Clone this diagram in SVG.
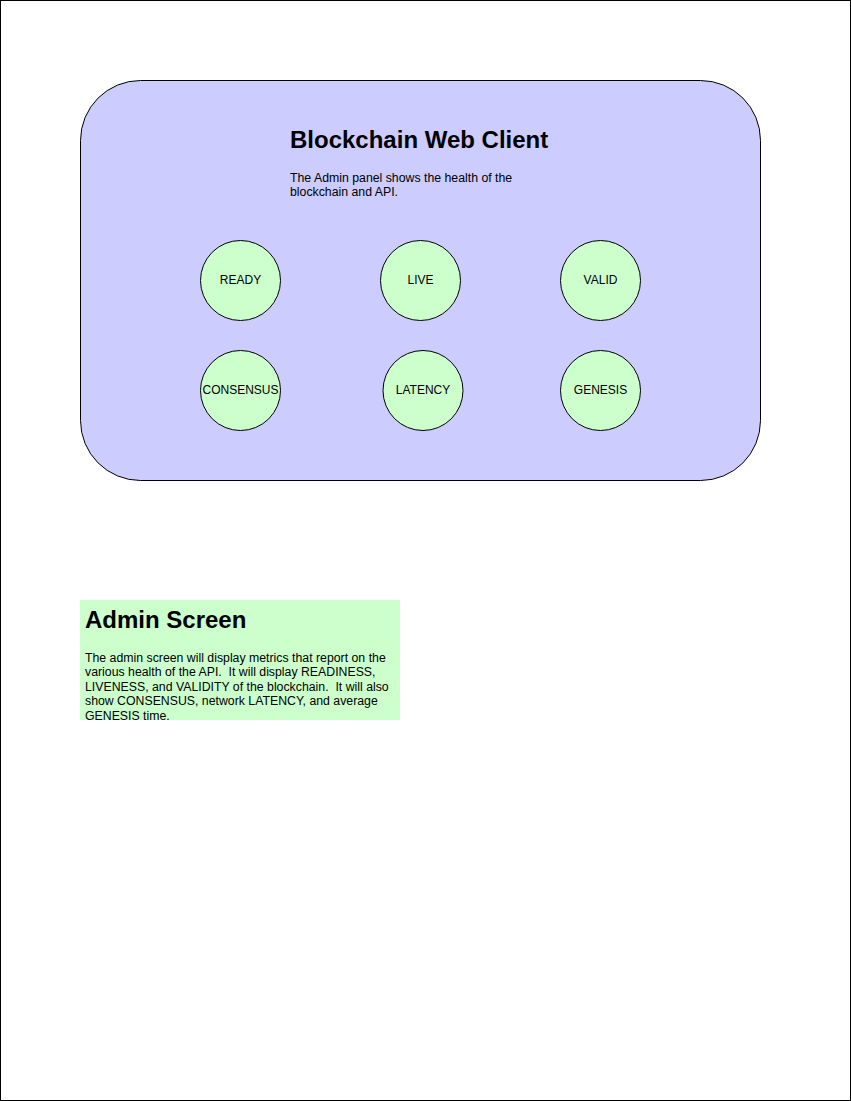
<svg xmlns="http://www.w3.org/2000/svg" width="851" height="1101" viewBox="0 0 851 1101">
<style>
.t{font-family:"Liberation Sans",Arial,sans-serif;fill:#000;white-space:pre}
.h{font-size:24px;font-weight:bold}
.s{font-size:12.3px}
.n circle{fill:#ccffcc;stroke:#000;stroke-width:1}
.n text{font-family:"Liberation Sans",Arial,sans-serif;font-size:12px;text-anchor:middle;fill:#000}
</style>
<rect x="0.5" y="0.5" width="850" height="1100" fill="#fff" stroke="#000"/>
<g id="web-client">
<rect x="80.5" y="80.5" width="680" height="400" rx="60" ry="60" fill="#ccccff" stroke="#000"/>
<text class="t h" x="290" y="148">Blockchain Web Client</text>
<text class="t s" x="290" y="182">The Admin panel shows the health of the</text>
<text class="t s" x="290" y="196">blockchain and API.</text>
</g>
<g id="ready" class="n"><circle cx="240.5" cy="280.5" r="40"/><text x="240.5" y="283.5">READY</text></g>
<g id="live" class="n"><circle cx="420.5" cy="280.5" r="40"/><text x="420.5" y="283.5">LIVE</text></g>
<g id="valid" class="n"><circle cx="600.5" cy="280.5" r="40"/><text x="600.5" y="283.5">VALID</text></g>
<g id="consensus" class="n"><circle cx="240.5" cy="390.5" r="40"/><text x="240.5" y="393.5">CONSENSUS</text></g>
<g id="latency" class="n"><circle cx="423" cy="390.5" r="40"/><text x="423" y="393.5">LATENCY</text></g>
<g id="genesis" class="n"><circle cx="600.5" cy="390.5" r="40"/><text x="600.5" y="393.5">GENESIS</text></g>
<g id="connectors"></g>
<g id="admin-screen">
<rect x="80" y="600" width="320" height="120" fill="#ccffcc"/>
<text class="t h" x="85" y="628">Admin Screen</text>
<text class="t s" x="85" y="662">The admin screen will display metrics that report on the</text>
<text class="t s" x="85" y="676">various health of the API.  It will display READINESS,</text>
<text class="t s" x="85" y="691">LIVENESS, and VALIDITY of the blockchain.  It will also</text>
<text class="t s" x="85" y="705">show CONSENSUS, network LATENCY, and average</text>
<text class="t s" x="85" y="720">GENESIS time.</text>
</g>
</svg>
